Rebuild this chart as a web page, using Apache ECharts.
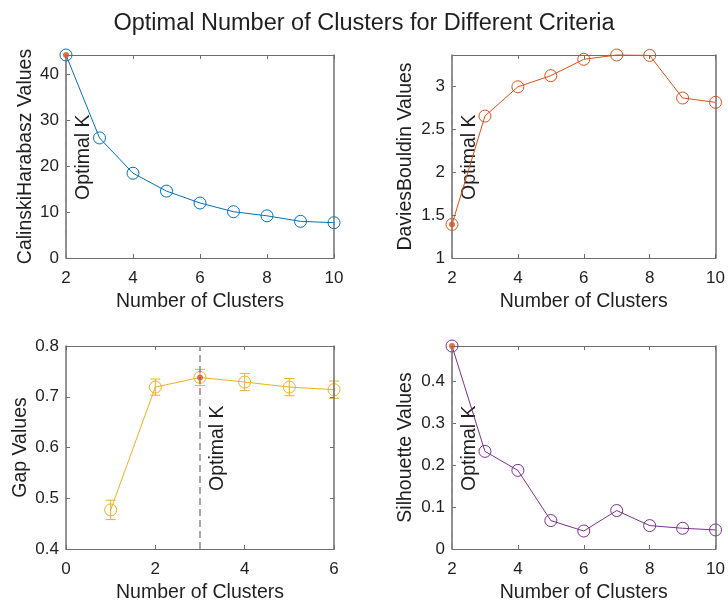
<!DOCTYPE html>
<html><head><meta charset="utf-8">
<script src="https://cdn.jsdelivr.net/npm/echarts@6/dist/echarts.min.js"></script>
<style>html,body{margin:0;padding:0;background:#fff}#c{width:728px;height:604px}</style>
</head><body><div id="c"></div>
<script>
// ---- data ----
const kRange = [2, 3, 4, 5, 6, 7, 8, 9, 10];
const chValues = [44.3, 26.2, 18.5, 14.6, 12.0, 10.1, 9.2, 8.0, 7.7];
const dbValues = [1.39, 2.65, 2.99, 3.12, 3.31, 3.36, 3.355, 2.86, 2.81];
const gapK = [1, 2, 3, 4, 5, 6];
const gapValues = [0.477, 0.719, 0.738, 0.729, 0.719, 0.714];
const gapErr = [0.019, 0.016, 0.016, 0.017, 0.017, 0.017];
const silValues = [0.4855, 0.2335, 0.188, 0.068, 0.043, 0.092, 0.056, 0.0496, 0.0456];
const optimalK = [2, 2, 3, 2];
const yNames = ['CalinskiHarabasz Values', 'DaviesBouldin Values', 'Gap Values', 'Silhouette Values'];
const xName = 'Number of Clusters';
const titleText = 'Optimal Number of Clusters for Different Criteria';
const colors = ['#0072BD', '#D95319', '#EDB120', '#7E2F8E'];
const optColor = '#D95319';

const FONT = '"Liberation Sans", Arial, Helvetica, sans-serif';
const AX = '#6e6e6e';
const TXT = '#1f1f1f';

const grids = [
  {left: 66, top: 55, width: 268, height: 203},
  {left: 452, top: 55, width: 266, height: 203},
  {left: 66, top: 346, width: 268, height: 203},
  {left: 452, top: 346, width: 266, height: 203}
];
const xCfg = [
  {min: 2, max: 10, interval: 2},
  {min: 2, max: 10, interval: 2},
  {min: 0, max: 6, interval: 2},
  {min: 2, max: 10, interval: 2}
];
const yCfg = [
  {min: 0, max: 'dataMax', interval: 10},
  {min: 1, max: 'dataMax', interval: 0.5},
  {min: 0.4, max: 0.8, interval: 0.1},
  {min: 0, max: 'dataMax', interval: 0.1}
];
const yNameGap = [30, 36, 35, 36];

function onGrid(v, c) {
  const n = (v - c.min) / c.interval;
  return Math.abs(n - Math.round(n)) < 1e-6;
}

const xAxis = [], yAxis = [];
for (let s = 0; s < 2; s++) {
  for (let i = 0; i < 4; i++) {
    const main = s === 0;
    xAxis.push({
      type: 'value', gridIndex: i, position: main ? 'bottom' : 'top',
      min: xCfg[i].min, max: xCfg[i].max, interval: xCfg[i].interval,
      name: main ? xName : '', nameLocation: 'middle', nameGap: 34,
      nameTextStyle: {fontFamily: FONT, fontSize: 19.5, color: TXT},
      axisLine: {show: true, onZero: false, lineStyle: {color: AX, width: 1}},
      axisTick: {show: true, inside: true, length: 4, lineStyle: {color: AX}},
      axisLabel: {show: main, fontFamily: FONT, fontSize: 17, color: TXT, margin: 12},
      splitLine: {show: false}
    });
    yAxis.push({
      type: 'value', gridIndex: i, position: main ? 'left' : 'right', z: 4,
      min: yCfg[i].min, max: yCfg[i].max, interval: yCfg[i].interval,
      name: main ? yNames[i] : '', nameLocation: 'middle', nameGap: yNameGap[i], nameRotate: 90,
      nameTextStyle: {fontFamily: FONT, fontSize: 19.5, color: TXT},
      axisLine: {show: true, onZero: false, lineStyle: {color: AX, width: 1.5}},
      axisTick: {show: true, inside: true, length: 4, lineStyle: {color: AX, width: 1}},
      axisLabel: {show: main, fontFamily: FONT, fontSize: 17, color: TXT, margin: 7,
        formatter: (v) => onGrid(v, yCfg[i]) ? String(+v.toFixed(2)) : ''},
      splitLine: {show: false}
    });
  }
}

const seriesData = [
  kRange.map((k, j) => [k, chValues[j]]),
  kRange.map((k, j) => [k, dbValues[j]]),
  gapK.map((k, j) => [k, gapValues[j]]),
  kRange.map((k, j) => [k, silValues[j]])
];

const series = [];
for (let i = 0; i < 4; i++) {
  const d = seriesData[i];
  series.push({
    type: 'line', xAxisIndex: i, yAxisIndex: i, data: d,
    symbol: 'circle', symbolSize: 12, clip: false,
    lineStyle: {color: colors[i], width: 1},
    itemStyle: {color: 'rgba(0,0,0,0)', borderColor: colors[i], borderWidth: 1},
    emphasis: {disabled: true}, animation: false, z: 3,
    markLine: {
      silent: true, symbol: 'none', animation: false,
      lineStyle: {color: '#8c8c8c', type: [7, 4], width: 1.5},
      label: {show: false},
      data: [{xAxis: optimalK[i]}]
    }
  });
  const opt = d.find(p => p[0] === optimalK[i]);
  series.push({
    type: 'scatter', xAxisIndex: i, yAxisIndex: i, data: [opt],
    symbol: 'circle', symbolSize: 6, clip: false,
    itemStyle: {color: optColor}, animation: false, z: 5
  });
}
// error bars for gap
series.push({
  type: 'custom', xAxisIndex: 2, yAxisIndex: 2, animation: false, z: 4,
  data: gapK.map((k, j) => [k, gapValues[j], gapErr[j]]),
  renderItem: function (params, api) {
    const x = api.value(0), y = api.value(1), e = api.value(2);
    const lo = api.coord([x, y - e]), hi = api.coord([x, y + e]);
    const st = {stroke: colors[2], lineWidth: 1};
    return {type: 'group', children: [
      {type: 'line', shape: {x1: lo[0], y1: lo[1], x2: hi[0], y2: hi[1]}, style: st},
      {type: 'line', shape: {x1: lo[0] - 5, y1: lo[1], x2: lo[0] + 5, y2: lo[1]}, style: st},
      {type: 'line', shape: {x1: hi[0] - 5, y1: hi[1], x2: hi[0] + 5, y2: hi[1]}, style: st}
    ]};
  }
});

const chart = echarts.init(document.getElementById('c'), null, {renderer: 'canvas'});
chart.setOption({
  backgroundColor: '#fff',
  animation: false,
  title: {text: titleText, left: 'center', top: 7,
    textStyle: {fontFamily: FONT, fontSize: 23.5, fontWeight: 'normal', color: TXT}},
  grid: grids,
  xAxis: xAxis, yAxis: yAxis, series: series
});

// "Optimal K" labels next to each optimal-K line
const graphics = [];
for (let i = 0; i < 4; i++) {
  const p = chart.convertToPixel({xAxisIndex: i, yAxisIndex: i}, [optimalK[i], yCfg[i].min]);
  graphics.push({
    type: 'text', x: p[0] + 18, y: grids[i].top + 145, rotation: Math.PI / 2, z: 2,
    style: {text: 'Optimal K', fontFamily: FONT, fontSize: 19.5, fill: TXT,
      textAlign: 'left', textVerticalAlign: 'middle'}
  });
}
chart.setOption({graphic: graphics});
</script></body></html>
